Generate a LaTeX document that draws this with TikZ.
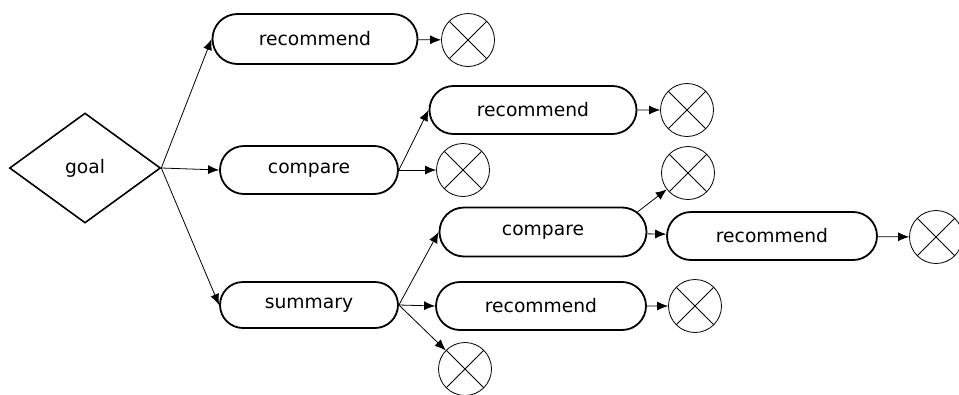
\documentclass[tikz,border=0pt]{standalone}
\usepackage{fontspec}
\setmainfont{DejaVu Sans}
\usepackage{tikz}
\usetikzlibrary{positioning,shapes.geometric,shapes.misc,arrows.meta}

\begin{document}
\begin{tikzpicture}[%
    x=1pt,
    y=-1pt,
    goalnode/.style={%
        draw,
        diamond,
        line width=1.6pt,
        inner sep=0pt,
        minimum width=151pt,
        minimum height=110pt,
        font=\fontsize{18.7}{22}\selectfont
    },
    stepbox/.style={%
        draw,
        rounded rectangle,
        line width=1.8pt,
        inner sep=0pt,
        minimum height=48pt,
        font=\fontsize{18.7}{22}\selectfont
    },
    endmark/.style={%
        draw,
        circle,
        line width=0.8pt,
        inner sep=0pt,
        minimum size=53pt,
        path picture={%
            \draw[line width=0.8pt] (path picture bounding box.north west) -- (path picture bounding box.south east);
            \draw[line width=0.8pt] (path picture bounding box.south west) -- (path picture bounding box.north east);
        }
    },
    link/.style={%
        ->,
        line width=0.8pt
    },
    >={Latex[length=11pt,width=9pt]}
]
\useasboundingbox (0,0) rectangle (959,394);

% Goal
    \node[goalnode] (goal) at (85,168) {goal};

% First level
    \node[stepbox, minimum width=205pt, minimum height=50pt] (rec1) at (315,39) {recommend};
    \node[stepbox, minimum width=178pt] (cmp1) at (309,170) {compare};
    \node[stepbox, minimum width=178pt, minimum height=46pt] (sum) at (309,305) {summary};

% After compare
    \node[stepbox, minimum width=207pt] (rec2) at (533,110) {recommend};

% After summary
    \node[stepbox, minimum width=207pt, minimum height=49pt] (cmp2) at (543,232) {compare};
    \node[stepbox, minimum width=210pt] (rec3) at (772,236) {recommend};
    \node[stepbox, minimum width=210pt] (rec4) at (541,306) {recommend};

% End marks
    \node[endmark] (endA) at (468,40) {};
    \node[endmark] (endB) at (463,170) {};
    \node[endmark] (endC) at (687,110) {};
    \node[endmark] (endD) at (688,173) {};
    \node[endmark] (endE) at (936,237) {};
    \node[endmark] (endF) at (695,306) {};
    \node[endmark] (endG) at (465,369) {};

% Arrows
\draw[link] (goal.east) -- (rec1.west);
\draw[link] (goal.east) -- (cmp1.west);
\draw[link] (goal.east) -- (sum.west);

\draw[link] (rec1) -- (endA);

\draw[link] (cmp1.east) -- (rec2.west);
\draw[link] (cmp1.east) -- (endB);
\draw[link] (rec2) -- (endC);

\draw[link] (sum.east) -- (cmp2.west);
\draw[link] (sum.east) -- (rec4.west);
\draw[link] (sum.east) -- (endG);

\draw[link] (cmp2.12) -- (endD);
\draw[link] (cmp2) -- (rec3);
\draw[link] (rec3) -- (endE);
\draw[link] (rec4) -- (endF);

\end{tikzpicture}
\end{document}
